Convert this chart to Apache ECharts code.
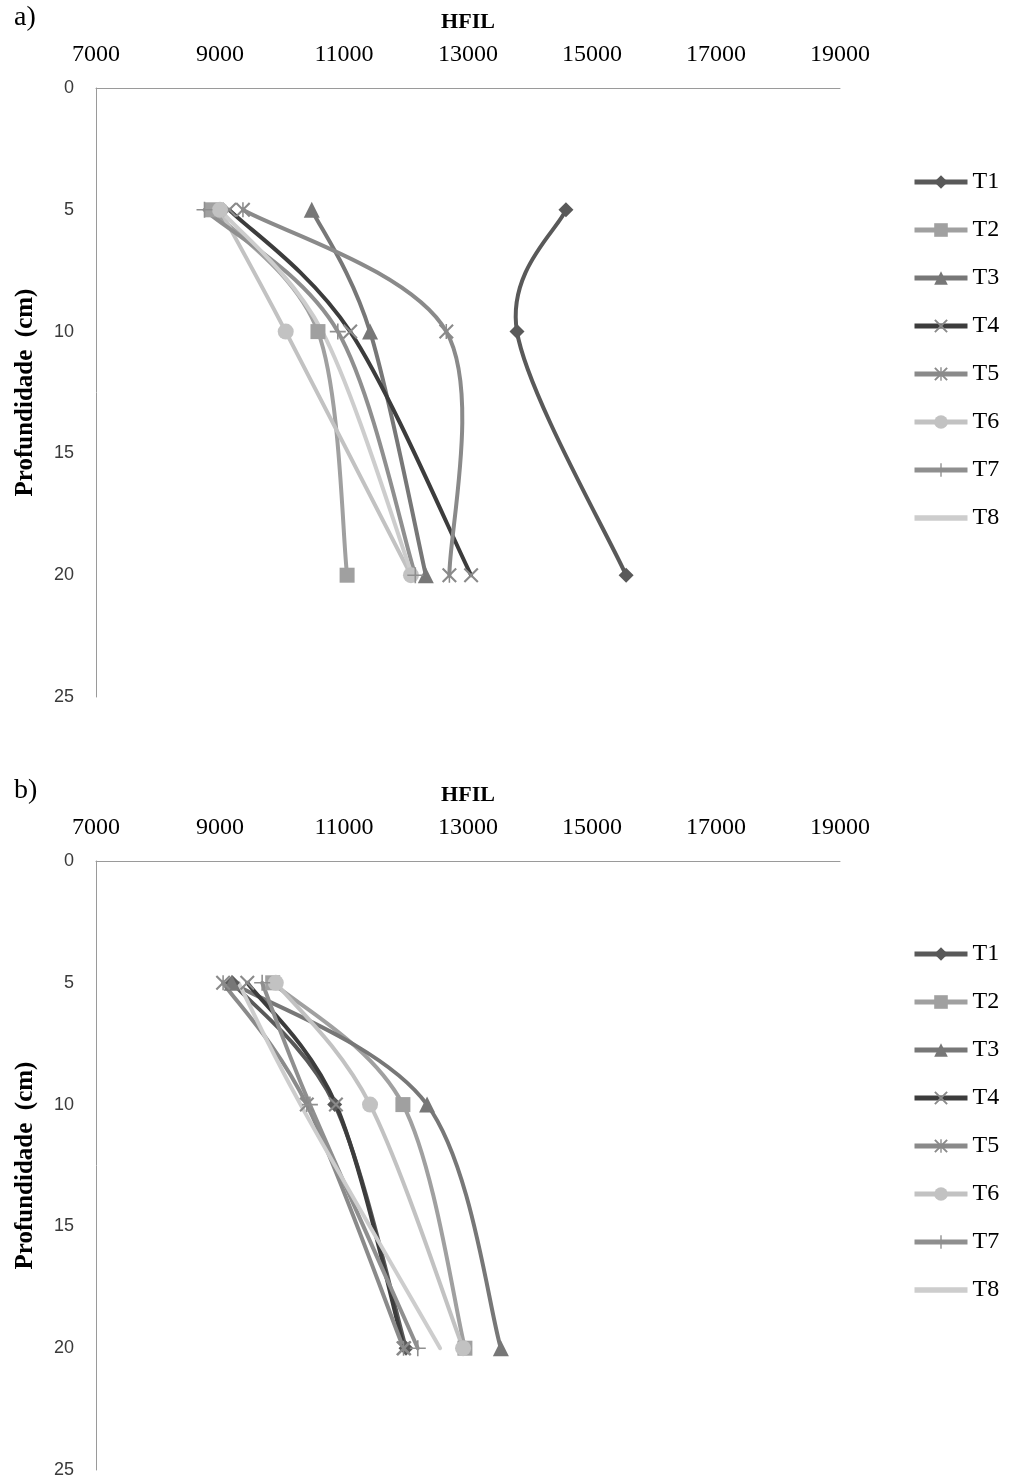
<!DOCTYPE html>
<html>
<head>
<meta charset="utf-8">
<title>HFIL por profundidade</title>
<script src="https://cdn.jsdelivr.net/npm/echarts@6/dist/echarts.min.js"></script>
<style>
  html, body { margin: 0; padding: 0; background: #fff; }
  #chart { width: 1010px; height: 1483px; }
</style>
</head>
<body>
<div id="chart"></div>
<script>
// Profundidades amostradas (cm)
const depths = [5, 10, 20];
const treatments = ['T1', 'T2', 'T3', 'T4', 'T5', 'T6', 'T7', 'T8'];
const xTicks = [7000, 9000, 11000, 13000, 15000, 17000, 19000];
const yTicks = [0, 5, 10, 15, 20, 25];

// Painel a) valores de HFIL por tratamento (5, 10, 20 cm)
const a_T1 = [14580, 13790, 15550];
const a_T2 = [8870, 10580, 11050];
const a_T3 = [10480, 11420, 12320];
const a_T4 = [9150, 11100, 13050];
const a_T5 = [9370, 12650, 12700];
const a_T6 = [9000, 10060, 12080];
const a_T7 = [8750, 10900, 12150];
const a_T8 = [9000, 10650, 12100];

// Painel b) valores de HFIL por tratamento (5, 10, 20 cm)
const b_T1 = [9200, 10850, 12000];
const b_T2 = [9850, 11950, 12950];
const b_T3 = [9190, 12340, 13530];
const b_T4 = [9440, 10870, 11970];
const b_T5 = [9050, 10400, 11960];
const b_T6 = [9900, 11420, 12920];
const b_T7 = [9680, 10450, 12190];
const b_T8 = [9300, 10300, 12550];

const panelA = [a_T1, a_T2, a_T3, a_T4, a_T5, a_T6, a_T7, a_T8];
const panelB = [b_T1, b_T2, b_T3, b_T4, b_T5, b_T6, b_T7, b_T8];

// Marcadores em tons de cinza
const CROSS = 'path://M0,1 L1,0 L10,9 L9,10 Z M9,0 L10,1 L1,10 L0,9 Z';
const STAR = 'path://M0,1 L1,0 L10,9 L9,10 Z M9,0 L10,1 L1,10 L0,9 Z M4.5,0 L5.5,0 L5.5,10 L4.5,10 Z';
const PLUS = 'path://M0,4.5 L10,4.5 L10,5.5 L0,5.5 Z M4.5,0 L5.5,0 L5.5,10 L4.5,10 Z';
const BAR = 'path://M0,0 L10,0 L10,1 L0,1 Z';

const styles = [
  { color: '#595959', symbol: 'diamond', size: 15 },
  { color: '#a0a0a0', symbol: 'rect', size: 15 },
  { color: '#777777', symbol: 'triangle', size: 16 },
  { color: '#3c3c3c', symbol: CROSS, size: 15, markColor: '#8a8a8a' },
  { color: '#8a8a8a', symbol: STAR, size: 15 },
  { color: '#c2c2c2', symbol: 'circle', size: 16 },
  { color: '#8f8f8f', symbol: PLUS, size: 16 },
  { color: '#cdcdcd', symbol: 'none', size: 0 }
];

const SERIF = '"Liberation Serif", "Times New Roman", serif';
const SANS = '"Liberation Sans", "DejaVu Sans", sans-serif';
const LINE_W = 4;

// Curva suavizada (Catmull-Rom, estilo planilha) desenhada pelas escalas do eixo
function curveRenderer(values, color) {
  return function (params, api) {
    if (params.dataIndex !== 0) return null;
    const pts = values.map((v, k) => api.coord([v, depths[k]]));
    let d = 'M' + pts[0][0] + ' ' + pts[0][1];
    for (let i = 0; i < pts.length - 1; i++) {
      const p0 = pts[i - 1] || pts[i];
      const p1 = pts[i];
      const p2 = pts[i + 1];
      const p3 = pts[i + 2] || pts[i + 1];
      const c1x = p1[0] + (p2[0] - p0[0]) / 6;
      const c1y = p1[1] + (p2[1] - p0[1]) / 6;
      const c2x = p2[0] - (p3[0] - p1[0]) / 6;
      const c2y = p2[1] - (p3[1] - p1[1]) / 6;
      d += ' C' + c1x + ' ' + c1y + ' ' + c2x + ' ' + c2y + ' ' + p2[0] + ' ' + p2[1];
    }
    return {
      type: 'path',
      shape: { pathData: d },
      style: { fill: 'none', stroke: color, lineWidth: LINE_W, lineJoin: 'round', lineCap: 'round' }
    };
  };
}

function makeSeries(panel, axisIndex) {
  const out = [];
  panel.forEach((vals, i) => {
    const st = styles[i];
    const pts = vals.map((v, k) => [v, depths[k]]);
    out.push({
      name: treatments[i] + '-curva',
      type: 'custom',
      xAxisIndex: axisIndex,
      yAxisIndex: axisIndex,
      silent: true,
      z: 2,
      encode: { x: 0, y: 1 },
      renderItem: curveRenderer(vals, st.color),
      data: pts
    });
  });
  panel.forEach((vals, i) => {
    const st = styles[i];
    out.push({
      name: treatments[i],
      type: 'line',
      xAxisIndex: axisIndex,
      yAxisIndex: axisIndex,
      z: 3,
      symbol: st.symbol,
      symbolSize: st.size,
      showSymbol: st.symbol !== 'none',
      lineStyle: { color: st.color, width: LINE_W, opacity: 0 },
      itemStyle: { color: st.markColor || st.color },
      emphasis: { disabled: true },
      data: vals.map((v, k) => [v, depths[k]])
    });
  });
  return out;
}

function xAxis(gridIndex) {
  return {
    type: 'value', gridIndex: gridIndex, position: 'top',
    min: xTicks[0], max: xTicks[xTicks.length - 1], interval: 2000,
    name: 'HFIL', nameLocation: 'middle', nameGap: 55,
    nameTextStyle: { fontFamily: SERIF, fontWeight: 'bold', fontSize: 22, color: '#000' },
    axisLine: { show: true, lineStyle: { color: '#9a9a9a', width: 1 } },
    axisTick: { show: false },
    axisLabel: { margin: 21, fontFamily: SERIF, fontSize: 24, color: '#000', formatter: v => String(v) },
    splitLine: { show: false }
  };
}

function yAxis(gridIndex) {
  return {
    type: 'value', gridIndex: gridIndex, inverse: true,
    min: yTicks[0], max: yTicks[yTicks.length - 1], interval: 5,
    name: 'Profundidade  (cm)', nameLocation: 'middle', nameGap: 58,
    nameTextStyle: { fontFamily: SERIF, fontWeight: 'bold', fontSize: 25, color: '#000' },
    axisLine: { show: true, onZero: false, lineStyle: { color: '#9a9a9a', width: 1 } },
    axisTick: { show: false },
    axisLabel: { margin: 22, fontFamily: SANS, fontSize: 18, color: '#3a3a3a' },
    splitLine: { show: false }
  };
}

function legend(top) {
  return {
    orient: 'vertical', left: 912, top: top, padding: 0,
    data: treatments.map(n => n === 'T8' ? { name: n, icon: BAR } : n),
    itemWidth: 53, itemHeight: 17, itemGap: 24,
    lineStyle: { width: 5, opacity: 1 },
    textStyle: { fontFamily: SERIF, fontSize: 24, lineHeight: 24, color: '#000' },
    selectedMode: false
  };
}

const chart = echarts.init(document.getElementById('chart'), null, { renderer: 'canvas' });
chart.setOption({
  backgroundColor: '#ffffff',
  animation: false,
  grid: [
    { left: 96, top: 88, width: 744, height: 609 },
    { left: 96, top: 861, width: 744, height: 609 }
  ],
  xAxis: [xAxis(0), xAxis(1)],
  yAxis: [yAxis(0), yAxis(1)],
  legend: [legend(170), legend(942)],
  graphic: [
    { type: 'text', left: 14, top: 4, style: { text: 'a)', font: '28px ' + SERIF, fill: '#000' } },
    { type: 'text', left: 14, top: 777, style: { text: 'b)', font: '28px ' + SERIF, fill: '#000' } }
  ],
  series: makeSeries(panelA, 0).concat(makeSeries(panelB, 1))
});
</script>
</body>
</html>
